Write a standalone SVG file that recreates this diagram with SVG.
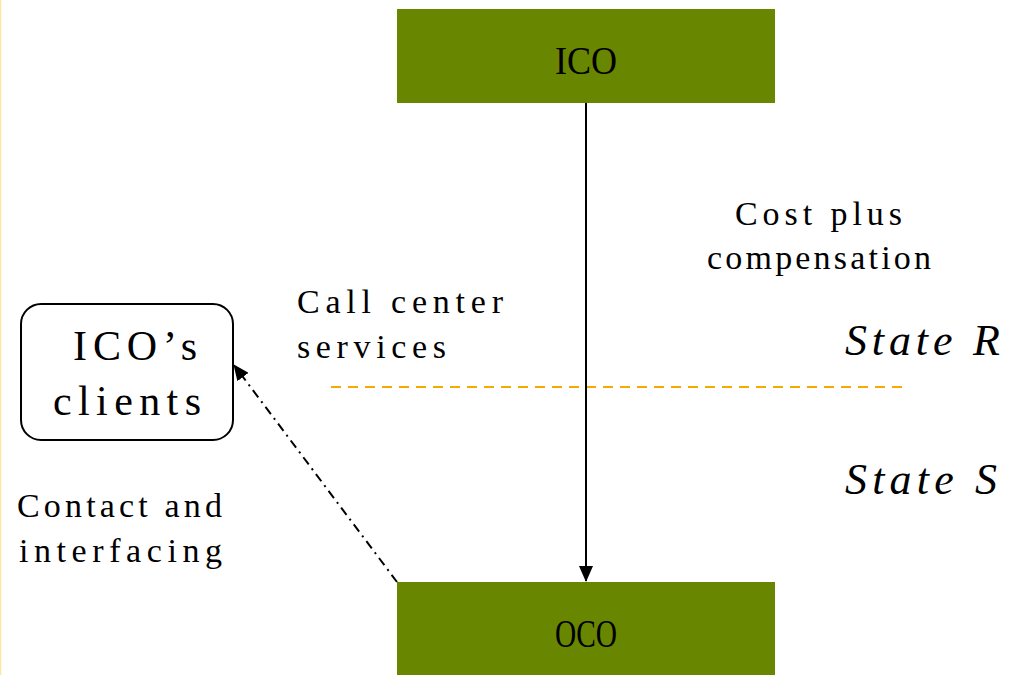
<svg xmlns="http://www.w3.org/2000/svg" width="1015" height="675" viewBox="0 0 1015 675">
<style>
.t{font-family:"Liberation Serif","DejaVu Serif",serif;fill:#000;}
.box{fill:#688600;}
.lbl{font-size:34px;}
.st{font-family:"Liberation Serif","DejaVu Serif",serif;font-style:italic;font-size:44px;fill:#000;}
</style>
<defs>
<marker id="ah2" markerWidth="16" markerHeight="14" refX="15" refY="7" orient="auto" markerUnits="userSpaceOnUse">
<path d="M0,0 L16,7 L0,14 z" fill="#000"/>
</marker>
</defs>
<rect width="1015" height="675" fill="#fff"/>
<line x1="0.5" y1="0" x2="0.5" y2="675" stroke="#ffe6a0" stroke-width="1.5"/>
<line x1="331" y1="387" x2="903" y2="387" stroke="#f5aa00" stroke-width="2" stroke-dasharray="10,7"/>
<g id="connectors">
<line x1="586" y1="103" x2="586" y2="581" stroke="#000" stroke-width="2" marker-end="url(#ah2)"/>
<line x1="397" y1="582" x2="234" y2="365" stroke="#000" stroke-width="2" stroke-dasharray="9,5,2,5" marker-end="url(#ah2)"/>
</g>
<g id="ico">
<rect class="box" x="397" y="9" width="378" height="94"/>
<text class="t" x="555" y="74" font-size="40" textLength="62" lengthAdjust="spacingAndGlyphs">ICO</text>
</g>
<g id="oco">
<rect class="box" x="397" y="582" width="378" height="93"/>
<text class="t" x="555" y="647" font-size="40" textLength="62" lengthAdjust="spacingAndGlyphs">OCO</text>
</g>
<g id="clients">
<rect x="21" y="304" width="212" height="136" rx="20" ry="20" fill="#fff" stroke="#000" stroke-width="2"/>
<text class="t" x="73" y="360" font-size="42" textLength="124">ICO’s</text>
<text class="t" x="53" y="415" font-size="42" textLength="148">clients</text>
</g>
<g id="labels">
<text class="t lbl" x="735" y="225" textLength="167">Cost plus</text>
<text class="t lbl" x="707" y="269" textLength="224">compensation</text>
<text class="t lbl" x="297" y="313" textLength="206">Call center</text>
<text class="t lbl" x="297" y="358" textLength="149">services</text>
<text class="t lbl" x="17" y="517" textLength="205">Contact and</text>
<text class="t lbl" x="19" y="562" textLength="203">interfacing</text>
<text class="st" x="845" y="355" textLength="155">State R</text>
<text class="st" x="845" y="494" textLength="152">State S</text>
</g>
</svg>
